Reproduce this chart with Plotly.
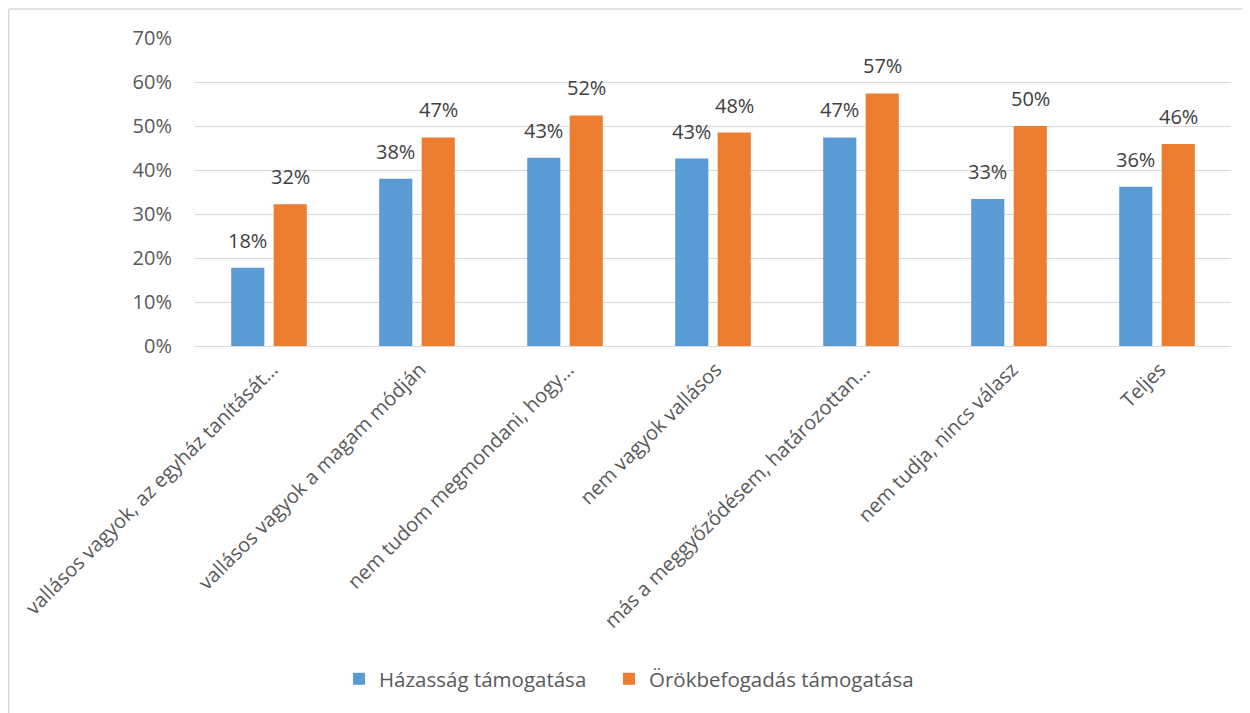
import plotly.graph_objects as go

categories = [
    "vallásos vagyok, az egyház tanítását…",
    "vallásos vagyok a magam módján",
    "nem tudom megmondani, hogy…",
    "nem vagyok vallásos",
    "más a meggyőződésem, határozottan…",
    "nem tudja, nincs válasz",
    "Teljes",
]
hazassag = [0.178, 0.380, 0.428, 0.426, 0.474, 0.334, 0.362]
orokbefogadas = [0.322, 0.474, 0.524, 0.485, 0.574, 0.500, 0.459]
series_names = ["Házasság támogatása", "Örökbefogadás támogatása"]
colors = ["#5B9BD5", "#ED7D31"]
y_ticks = [0, 0.1, 0.2, 0.3, 0.4, 0.5, 0.6, 0.7]

# page has an 8px body margin; figure sized to fill the rest of the window
OFF = 8
W, H = 1250 - OFF, 713 - OFF
L, R, T, B = 195 - OFF, 19, 38 - OFF, 366.5
pw, ph = W - L - R, H - T - B


def px_x(x):
    return (x - L) / pw


def px_y(y):
    return (H - B - y) / ph


FONT = "Open Sans"
fig = go.Figure()
series = [hazassag, orokbefogadas]
legend_ids = ["legend", "legend2"]
for name, vals, col, lg in zip(series_names, series, colors, legend_ids):
    fig.add_trace(go.Bar(
        x=categories, y=vals, name=name, legend=lg,
        marker=dict(color=col, line=dict(width=0)),
        hoverinfo="skip",
    ))

# data labels above each bar
slot = pw / len(categories) * (1 - 0.426) / 2
for k, vals in enumerate(series):
    shift = (k - 0.5) * slot
    for c, v in zip(categories, vals):
        fig.add_annotation(
            x=c, y=v, xref="x", yref="y", text=f"{round(v * 100):.0f}%",
            showarrow=False, xshift=shift, yanchor="bottom", yshift=12,
            font=dict(family=FONT, size=20, color="#404040"),
        )

legend_style = dict(
    orientation="h", xanchor="left", y=px_y(672), yanchor="middle",
    font=dict(family=FONT, size=20.5, color="#595959"),
)
fig.update_layout(
    width=W, height=H,
    margin=dict(l=L, r=R, t=T, b=B, autoexpand=False),
    paper_bgcolor="white", plot_bgcolor="white",
    barmode="group", bargap=0.426, bargroupgap=0.22,
    font=dict(family=FONT, color="#595959"),
    showlegend=True,
    legend=dict(x=px_x(331), **legend_style),
    legend2=dict(x=px_x(601), **legend_style),
)
fig.update_xaxes(
    tickangle=-45, tickfont=dict(family=FONT, size=20, color="#595959"),
    showline=False, showgrid=False, ticks="",
    ticklabelshift=3, ticklabelstandoff=7,
)
fig.update_yaxes(
    range=[0, 0.7], tickvals=y_ticks, tickformat=".0%",
    tickfont=dict(family=FONT, size=20, color="#595959"),
    showgrid=True, gridcolor="#d9d9d9", gridwidth=1,
    zeroline=True, zerolinecolor="#d9d9d9", zerolinewidth=1,
    showline=False, ticks="", ticklabelstandoff=22,
)

# chart border (top and left edges visible)
fig.add_shape(type="line", xref="paper", yref="paper",
              x0=px_x(0.75), x1=px_x(W + 5), y0=px_y(1), y1=px_y(1),
              line=dict(color="#d9d9d9", width=1.5))
fig.add_shape(type="line", xref="paper", yref="paper",
              x0=px_x(0.75), x1=px_x(0.75), y0=px_y(1), y1=px_y(H + 5),
              line=dict(color="#d9d9d9", width=1.5))

fig.write_html("out.html")
